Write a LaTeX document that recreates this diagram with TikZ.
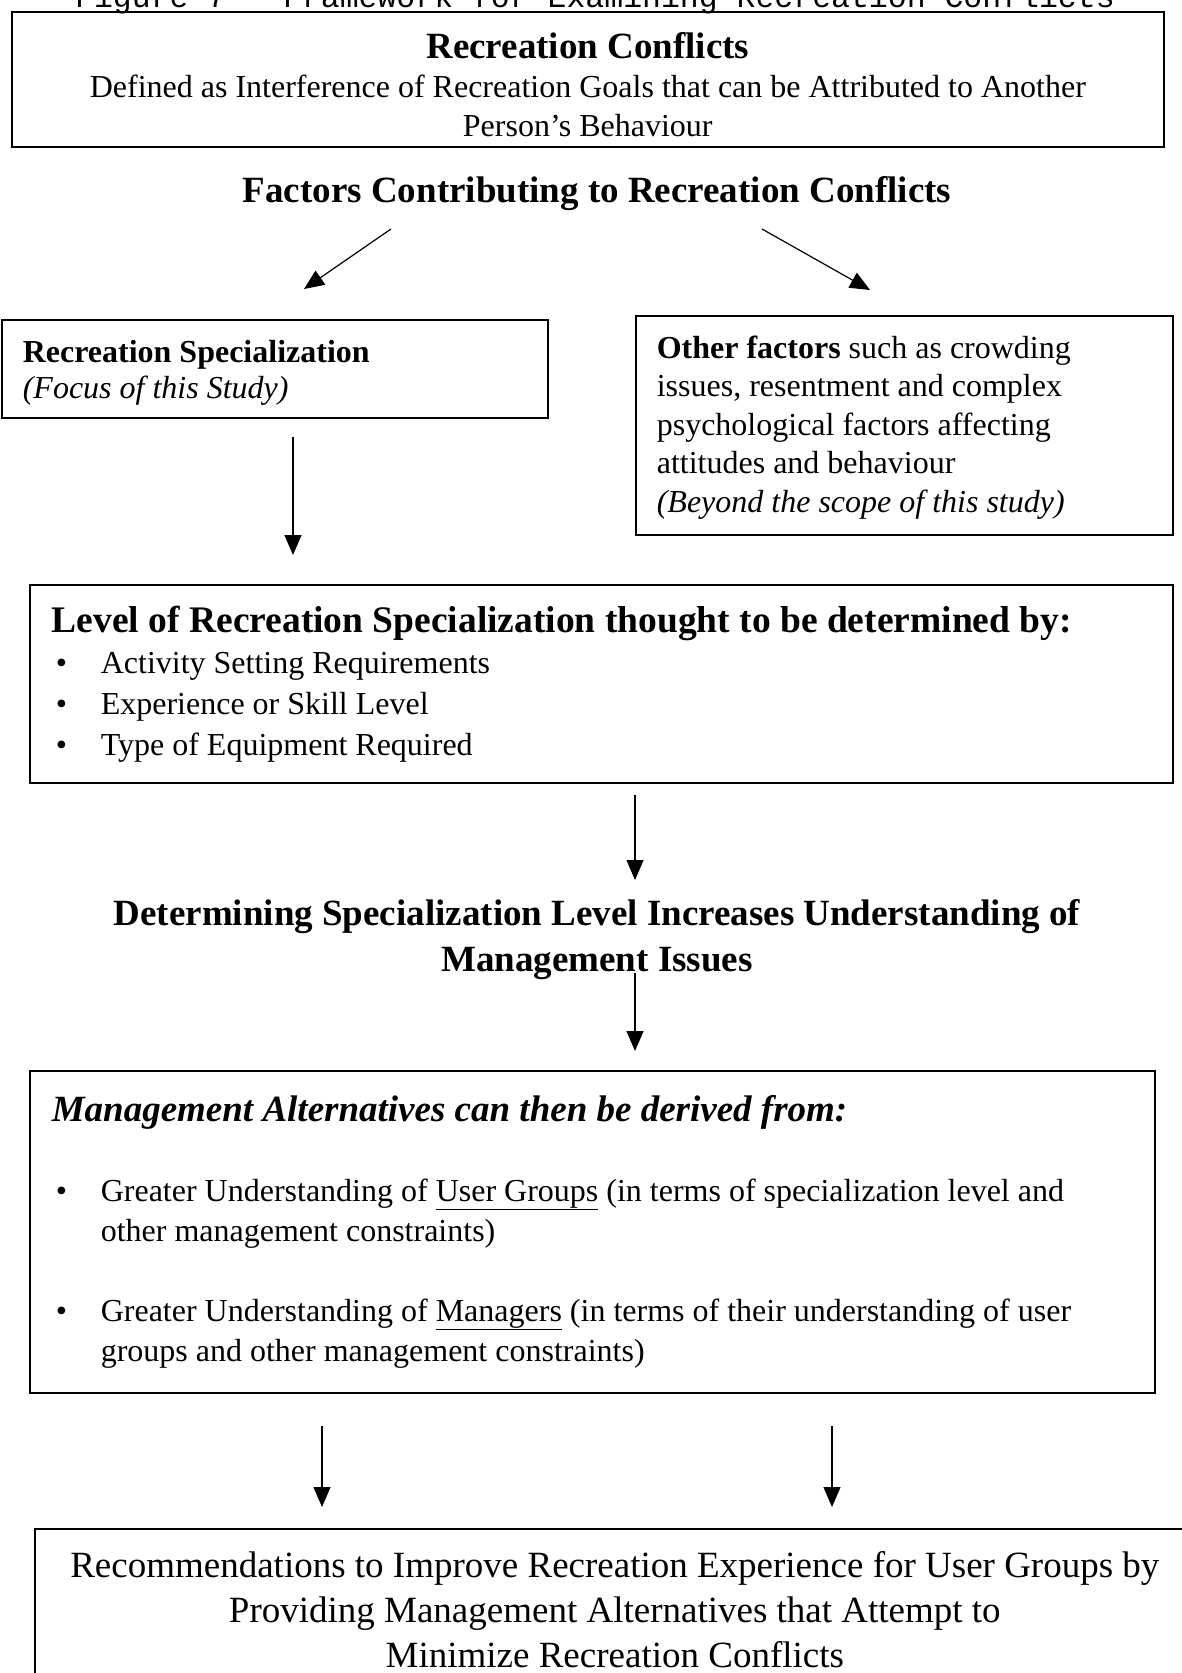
\documentclass[tikz,border=0pt]{standalone}
\usepackage{fontspec}
\setmainfont{Liberation Serif}
\newfontfamily\monofam{Liberation Mono}
\usetikzlibrary{arrows.meta}
\newcommand\ns{\spaceskip=0pt\xspaceskip=0pt\relax}
\newcommand\cns{\ns\leftskip=0pt plus 1fil\rightskip=0pt plus 1fil\parfillskip=0pt\relax}
\newcommand\bitem{\hangindent=49pt\hangafter=1\noindent\hspace*{4pt}\makebox[45pt][l]{\textbullet}}
\begin{document}
\begin{tikzpicture}[x=1pt,y=-1pt,
  box/.style={draw, line width=1.6pt, rectangle, anchor=north west, inner ysep=0pt},
  arr/.style={line width=1.2pt, -{Triangle[length=20pt,width=17pt]}},
]
\useasboundingbox (0,0) rectangle (1182,1673);
\clip (0,0) rectangle (1182,1673);

\node[anchor=base, font=\monofam\fontsize{31.5}{34}\selectfont] (fig) at (595,7) {Figure 7 - Framework for Examining Recreation Conflicts};

\node[box, minimum width=1152pt, minimum height=135pt, text width=1108pt, align=center, inner xsep=22pt, font=\fontsize{32}{39}\selectfont] (rc) at (11,11)
 {\cns{\fontsize{37}{40}\selectfont\bfseries\rule{0pt}{37pt}Recreation Conflicts\par}
  Defined as Interference of Recreation Goals that can be Attributed to Another\par Person’s Behaviour\par};

\node[font=\fontsize{37}{40}\selectfont\bfseries] (fac) at (597,194) {Factors Contributing to Recreation Conflicts};

\node[box, minimum width=546pt, minimum height=98pt, text width=504pt, align=left, inner xsep=21pt, font=\fontsize{32}{36}\selectfont] (ls) at (1,319)
 {\ns\rule{0pt}{30pt}\textbf{Recreation Specialization}\par\textit{(Focus of this Study)}\par};

\node[box, minimum width=537pt, minimum height=219pt, text width=495pt, align=left, inner xsep=21pt, font=\fontsize{32}{38.4}\selectfont] (of) at (635,315)
 {\ns\rule{0pt}{27pt}\textbf{Other factors} such as crowding\par issues, resentment and complex\par psychological factors affecting\par attitudes and behaviour\par \textit{(Beyond the scope of this study)}\par};

\node[box, minimum width=1143pt, minimum height=198pt, text width=1099pt, align=left, inner xsep=22pt, font=\fontsize{32}{41}\selectfont] (lv) at (29,584)
 {\ns{\fontsize{37.5}{40}\selectfont\bfseries Level of Recreation Specialization thought to be determined by:\par}
  \bitem Activity Setting Requirements\par
  \bitem Experience or Skill Level\par
  \bitem Type of Equipment Required\par};

\node[align=center, font=\fontsize{37}{46}\selectfont\bfseries] (det) at (597,940) {Determining Specialization Level Increases Understanding of\\ Management Issues};

\node[box, minimum width=1125pt, minimum height=322pt, text width=1081pt, align=left, inner xsep=22pt, font=\fontsize{32}{40}\selectfont] (ma) at (29,1070)
 {\ns{\fontsize{37}{40}\selectfont\bfseries\itshape Management Alternatives can then be derived from:\par}
  \vspace{40pt}
  \bitem Greater Understanding of \underline{User Groups} (in terms of specialization level and\newline other management constraints)\par
  \vspace{40pt}
  \bitem Greater Understanding of \underline{Managers} (in terms of their understanding of user\newline groups and other management constraints)\par};

\node[box, minimum width=1160pt, text width=1116pt, align=center, inner xsep=22pt, inner ysep=23pt, font=\fontsize{37}{45}\selectfont] (rec) at (34,1528)
 {\cns Recommendations to Improve Recreation Experience for User Groups by\par Providing Management Alternatives that Attempt to\par Minimize Recreation Conflicts\par};

\coordinate (a1s) at (391,229); \coordinate (a1e) at (304,289);
\coordinate (a2s) at (762,229); \coordinate (a2e) at (870,290);
\coordinate (a3s) at (293,437); \coordinate (a3e) at (293,555);
\coordinate (a4s) at (635,795); \coordinate (a4e) at (635,880);
\coordinate (a5s) at (635,973); \coordinate (a5e) at (635,1051);
\coordinate (a6s) at (322,1426); \coordinate (a6e) at (322,1507);
\coordinate (a7s) at (832,1426); \coordinate (a7e) at (832,1507);

\draw[arr] (a1s) -- (a1e);
\draw[arr] (a2s) -- (a2e);
\draw[arr] (a3s) -- (a3e);
\draw[arr] (a4s) -- (a4e);
\draw[arr] (a5s) -- (a5e);
\draw[arr] (a6s) -- (a6e);
\draw[arr] (a7s) -- (a7e);
\end{tikzpicture}
\end{document}
